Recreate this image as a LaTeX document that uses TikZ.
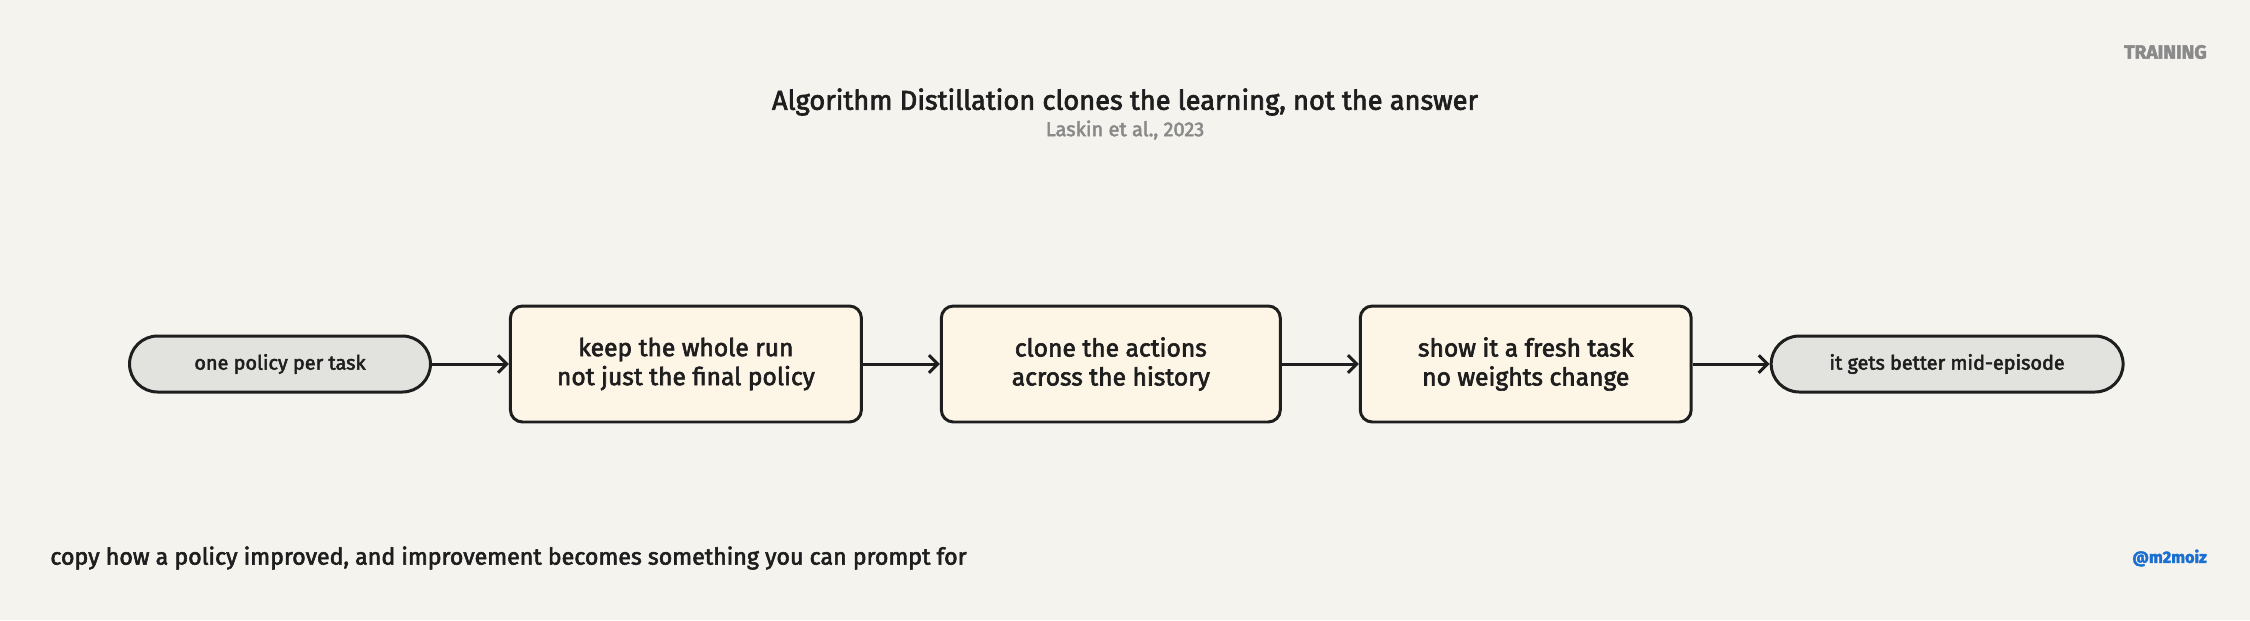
\documentclass[tikz,border=0pt]{standalone}
\usepackage{fontspec}
\setmainfont{Fira Sans}[FakeBold=2.5]
\usepackage{tikz}
\usetikzlibrary{shapes,arrows.meta,positioning,calc}

\definecolor{paper}{HTML}{F4F3EE}
\definecolor{cream}{HTML}{FDF6E7}
\definecolor{pillgray}{HTML}{E2E3DF}
\definecolor{ink}{HTML}{1E1E1E}
\definecolor{softgray}{HTML}{8A8A8A}
\definecolor{handle}{HTML}{1A6FD0}

\begin{document}
\begin{tikzpicture}[x=0.02cm, y=-0.02cm, node distance=1.54cm, auto]

% Define styles
\tikzstyle{terminal} = [rectangle, rounded corners=0.56cm, minimum height=1.12cm, text centered, draw=ink, fill=pillgray, line width=1.7pt, text=ink, font=\fontsize{11.3}{13}\selectfont]
\tikzstyle{stage} = [rectangle, rounded corners=0.24cm, minimum height=2.32cm, align=center, draw=ink, fill=cream, line width=1.7pt, text=ink, font=\fontsize{14}{16.5}\selectfont]
\tikzstyle{arrow} = [line width=1.7pt, draw=ink, -{Straight Barb[length=5pt, width=10pt]}]
\tikzstyle{caption} = [inner sep=0pt, text=ink, font=\fontsize{13.2}{15}\selectfont]

% Canvas
\fill [paper] (0,0) rectangle (2250,620);
\useasboundingbox (0,0) rectangle (2250,620);

% Heading
\node (title) at (1125,102) [caption, font=\fontsize{15.5}{18}\selectfont] {Algorithm Distillation clones the learning, not the answer};
\node (cite) at (1125,130) [caption, text=softgray, font=\fontsize{11.4}{13}\selectfont] {Laskin et al., 2023};
\node (tag) at (2207,52) [caption, anchor=east, text=softgray, font=\fontsize{10.9}{12}\selectfont\bfseries] {TRAINING};

% Pipeline
\node (start) at (280,364) [terminal, minimum width=6.02cm] {one policy per task};
\node (keeprun) [stage, right=of start, minimum width=7.02cm] {keep the whole run\\not just the final policy};
\node (clone) [stage, right=of keeprun, minimum width=6.78cm] {clone the actions\\across the history};
\node (fresh) [stage, right=of clone, minimum width=6.62cm] {show it a fresh task\\no weights change};
\node (result) [terminal, right=of fresh, minimum width=7.04cm] {it gets better mid-episode};

\draw [arrow] (start.east) -- (keeprun.west);
\draw [arrow] (keeprun.east) -- (clone.west);
\draw [arrow] (clone.east) -- (fresh.west);
\draw [arrow] (fresh.east) -- (result.west);

% Footer
\node (footer) at (50,558) [caption, anchor=west] {copy how a policy improved, and improvement becomes something you can prompt for};
\node (handle) at (2207,558) [caption, anchor=east, text=handle, font=\fontsize{9.3}{12}\selectfont\bfseries] {@m2moiz};

\end{tikzpicture}
\end{document}
